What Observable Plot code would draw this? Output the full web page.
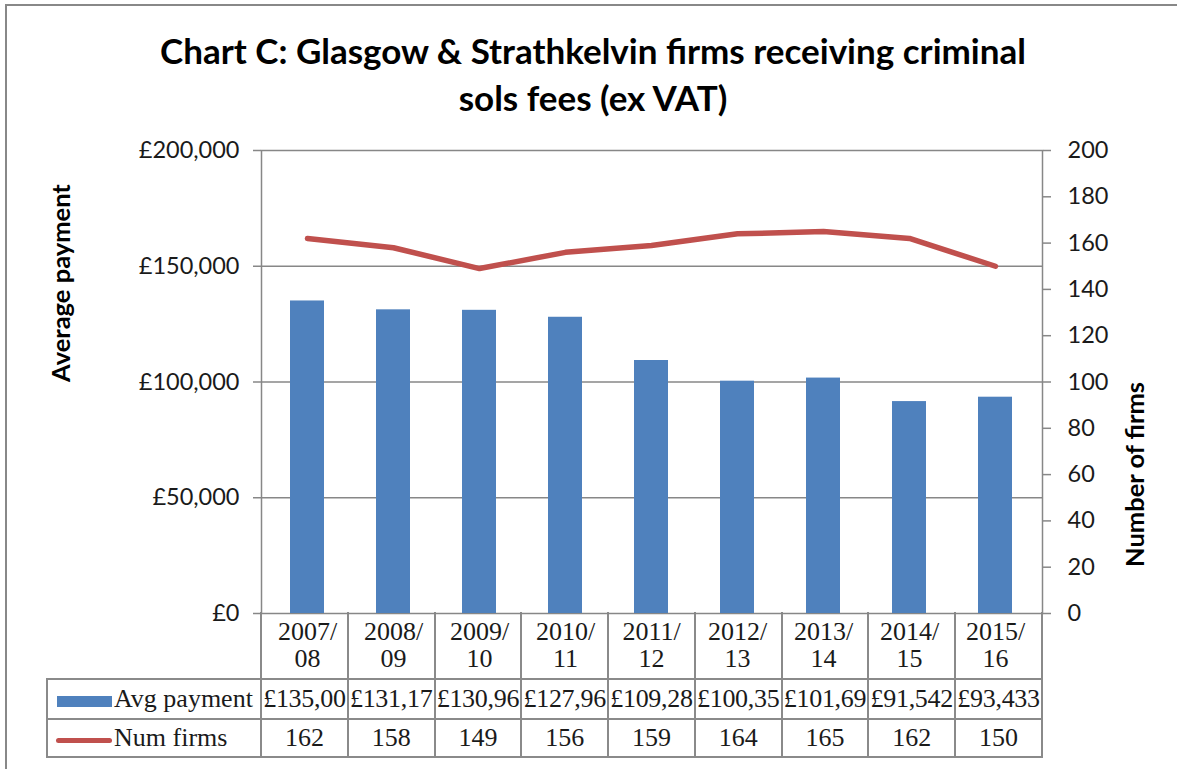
<!DOCTYPE html>
<html>
<head>
<meta charset="utf-8">
<script src="https://cdn.jsdelivr.net/npm/d3@7"></script>
<script src="https://cdn.jsdelivr.net/npm/@observablehq/plot@0.6"></script>
<style>
  html, body { margin:0; padding:0; background:#fff; overflow:hidden; }
  #wrap { position:relative; width:1177px; height:769px; overflow:hidden; }
  #border { position:absolute; left:5px; top:4px; width:1400px; height:1000px; border:2.5px solid #888; box-sizing:border-box; }
  #title { position:absolute; left:0; width:1186px; top:27px; text-align:center; font-family:Lato, sans-serif; font-weight:700; font-size:35px; line-height:47px; color:#000; }
  #chart { position:absolute; left:0; top:0; }
  #table { position:absolute; border-collapse:collapse; table-layout:fixed; font-family:"Liberation Serif", serif; font-size:26px; color:#1a1a1a; }
  #table td { border:2px solid #8a8a8a; padding:0; white-space:nowrap; overflow:hidden; text-align:center; max-width:0; }
  #table td.v { letter-spacing:-0.3px; }
  .sw { display:inline-block; vertical-align:middle; margin-right:2px; }
</style>
</head>
<body>
<div id="wrap">
  <div id="border"></div>
  <table id="table"></table>
  <div id="chart"></div>
  <div id="title">Chart C: Glasgow &amp; Strathkelvin firms receiving criminal<br>sols fees (ex VAT)</div>
</div>
<script>
const categories = ["2007/08","2008/09","2009/10","2010/11","2011/12","2012/13","2013/14","2014/15","2015/16"];
const avgPayment = [135005, 131175, 130965, 127965, 109285, 100355, 101695, 91542, 93433];
const numFirms = [162, 158, 149, 156, 159, 164, 165, 162, 150];
const leftTicks = [0, 50000, 100000, 150000, 200000];
const rightTicks = [0, 20, 40, 60, 80, 100, 120, 140, 160, 180, 200];
const gridValues = [50000, 100000, 150000];
const seriesNames = ["Avg payment", "Num firms"];
const barColor = "#4F81BD", lineColor = "#C0504D", gray = "#878787";

const data = categories.map((c, i) => ({cat: c, avg: avgPayment[i], firms: numFirms[i]}));
const fmtMoney = d => "£" + d3.format(",")(d);
// the narrow table cells only show the first 7 characters, as in the original
const fmtCell = d => fmtMoney(d).slice(0, 7);

const W = 1177, H = 769, mL = 261, mR = 135, mT = 150, mB = 156;

const chart = Plot.plot({
  width: W, height: H,
  marginLeft: mL, marginRight: mR, marginTop: mT, marginBottom: mB,
  x: {domain: categories, paddingInner: 0.6, paddingOuter: 0.3, axis: null},
  y: {domain: [0, 200000], axis: null},
  style: {fontFamily: "Lato, sans-serif", fontSize: "23.5px", color: "#1a1a1a", background: "transparent", overflow: "visible"},
  marks: [
    Plot.ruleY(gridValues, {stroke: gray, strokeWidth: 1.5}),
    Plot.frame({stroke: gray, strokeWidth: 1.5}),
    Plot.barY(data, {x: "cat", y: "avg", fill: barColor}),
    Plot.line(data, {x: "cat", y: d => d.firms * 1000, stroke: lineColor, strokeWidth: 5.5, strokeLinejoin: "round", strokeLinecap: "round"}),
    Plot.axisY({anchor: "left", ticks: leftTicks, tickFormat: fmtMoney, tickSize: 8, tickPadding: 14, stroke: gray, strokeWidth: 1.5, fill: "#1a1a1a", label: null}),
    Plot.axisY({anchor: "right", ticks: rightTicks.map(v => v * 1000), tickFormat: d => d / 1000, tickSize: 8, tickPadding: 17, stroke: gray, strokeWidth: 1.5, fill: "#1a1a1a", label: null}),
    Plot.axisX({anchor: "bottom", tickSize: 0, tickPadding: 7, tickFormat: d => d.replace("/", "/\n"), fontFamily: "Liberation Serif, serif", fontSize: 26, lineHeight: 1.05, fill: "#1a1a1a", label: null}),
    Plot.text(["Average payment"], {frameAnchor: "left", dx: -200, rotate: -90, fontWeight: "bold", fontSize: 25.5, fill: "#000"}),
    Plot.text(["Number of firms"], {frameAnchor: "right", dx: 93, rotate: -90, fontWeight: "bold", fontSize: 25.5, fill: "#000"})
  ]
});
document.getElementById("chart").appendChild(chart);

// Data table under the category axis, aligned with the x band scale
const xs = chart.scale("x");
const [r0, r1] = xs.range;
const step = (r1 - r0) / categories.length;
const tableLeft = 47;
const tbl = document.getElementById("table");
tbl.style.left = (tableLeft - 1) + "px";
tbl.style.top = (H - mB - 1) + "px";
tbl.style.width = (r1 - tableLeft + 2) + "px";
let html = `<colgroup><col style="width:${r0 - tableLeft}px">` + categories.map(() => `<col style="width:${step}px">`).join("") + "</colgroup>";
html += `<tr style="height:67px"><td style="border:none"></td>` + categories.map(() => `<td style="border-top:none"></td>`).join("") + "</tr>";
html += `<tr style="height:40px"><td style="text-align:left;padding-left:9px"><span class="sw" style="width:55px;height:11px;background:${barColor}"></span>${seriesNames[0]}</td>` +
  avgPayment.map(v => `<td class="v">${fmtCell(v)}</td>`).join("") + "</tr>";
html += `<tr style="height:38px"><td style="text-align:left;padding-left:8px"><span class="sw" style="width:56px;height:5px;border-radius:3px;background:${lineColor}"></span>${seriesNames[1]}</td>` +
  numFirms.map(v => `<td>${v}</td>`).join("") + "</tr>";
tbl.innerHTML = html;
</script>
</body>
</html>
